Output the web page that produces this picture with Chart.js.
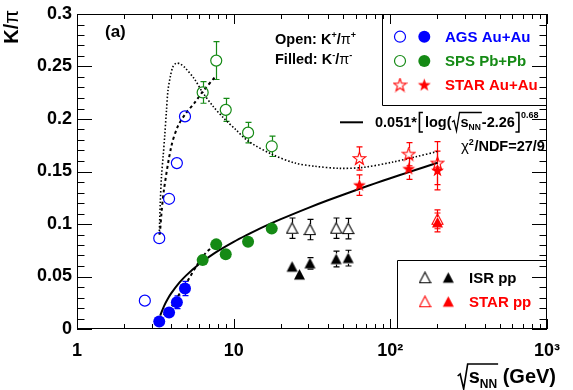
<!DOCTYPE html>
<html><head><meta charset="utf-8">
<script src="https://cdn.jsdelivr.net/npm/chart.js@4.4.0/dist/chart.umd.min.js"></script>
<style>html,body{margin:0;padding:0;background:#fff;}#wrap{width:573px;height:390px;position:relative;}</style>
</head><body><div id="wrap"><canvas id="c" width="573" height="390"></canvas></div>
<script>
const FONT = '"Liberation Sans", Arial, Helvetica, sans-serif';
const BLUE = '#0000ff', GREEN = '#158a15', RED = '#ff0000', BLACK = '#000000';

// ---- tick labels ----
const xTickValues = [1, 10, 100, 1000];
const xTickLabels = ['1', '10', '10\u00b2', '10\u00b3'];
const yTickValues = [0, 0.05, 0.1, 0.15, 0.2, 0.25, 0.3];
const yTickLabels = ['0', '0.05', '0.1', '0.15', '0.2', '0.25', '0.3'];

// ---- AGS Au+Au ----
const agsKpX = [2.71, 3.35, 3.87, 4.34, 4.89];
const agsKpY = [0.027, 0.0865, 0.124, 0.158, 0.2025];
const agsKpErr = [0, 0, 0, 0, 0];
const agsKmX = [3.35, 3.87, 4.34, 4.89];
const agsKmY = [0.0072, 0.0158, 0.0255, 0.0385];
const agsKmErr = [0.002, 0.005, 0.006, 0.0068];

// ---- SPS Pb+Pb ----
const spsX = [6.34, 7.74, 8.9, 12.36, 17.5];
const spsKpY = [0.2253, 0.2556, 0.2087, 0.187, 0.174];
const spsKpErr = [0.0103, 0.018, 0.011, 0.0097, 0.0097];
const spsKmY = [0.0656, 0.0806, 0.0712, 0.083, 0.0956];
const spsKmErr = [0.002, 0.002, 0.002, 0.002, 0.002];

// ---- STAR Au+Au ----
const starX = [63.5, 131, 200];
const starKpY = [0.1624, 0.1665, 0.158];
const starKpErr = [0.011, 0.011, 0.0205];
const starKmY = [0.137, 0.1525, 0.151];
const starKmErr = [0.0097, 0.010, 0.0185];

// ---- ISR pp ----
const isrKpX = [23.6, 30.7, 45.1, 53.8];
const isrKpY = [0.096, 0.0947, 0.096, 0.0956];
const isrKpErr = [0.0097, 0.0097, 0.0097, 0.0097];
const isrKmX = [23.6, 26.3, 30.7, 45.1, 53.8];
const isrKmY = [0.0593, 0.0518, 0.0625, 0.0666, 0.0675];
const isrKmErr = [0.0052, 0.004, 0.0055, 0.0075, 0.0075];

// ---- STAR pp ----
const starppX = [200];
const starppKpY = [0.1045];
const starppKpErr = [0.009];
const starppKmY = [0.1015];
const starppKmErr = [0.009];

// ---- fit curve 0.051*[log(sqrt(s)-2.26)]^0.68 ----
const fitX = [3.4, 3.6, 3.8, 4.0, 4.5, 5, 6, 7, 8, 10, 12, 15, 20, 30, 40, 60, 80, 100, 130, 160, 200];
const fitY = [0.0128, 0.0221, 0.0288, 0.0341, 0.0441, 0.0513, 0.0616, 0.0689, 0.0746, 0.0830, 0.0892, 0.0963, 0.1046, 0.1154, 0.1226, 0.1322, 0.1387, 0.1436, 0.1492, 0.1536, 0.1583];

// ---- dotted model curve ----
const dotX = [3.35, 3.4, 3.46, 3.55, 3.63, 3.72, 3.81, 3.95, 4.09, 4.29, 4.55, 4.85, 5.6, 6.34, 7.4, 8.62, 10.3, 12.36, 17.5, 24.7, 33, 47.3, 67.8, 104, 145, 199.5];
const dotY = [0.09, 0.12, 0.145, 0.165, 0.184, 0.207, 0.2275, 0.241, 0.2494, 0.2531, 0.2525, 0.2494, 0.2384, 0.2253, 0.212, 0.201, 0.19, 0.179, 0.1665, 0.158, 0.155, 0.153, 0.154, 0.159, 0.164, 0.169];

// ---- dash-dot curves ----
const dashKpX = [3.38, 3.46, 3.6, 4.0, 4.4, 4.96, 5.6, 6.34, 7.66];
const dashKpY = [0.09, 0.11, 0.134, 0.174, 0.193, 0.2056, 0.215, 0.226, 0.2406];
const dashKmX = [3.38, 3.6, 4.0, 4.4, 5.0, 5.9, 6.6, 7.7];
const dashKmY = [0.009, 0.014, 0.021, 0.031, 0.044, 0.062, 0.072, 0.081];

function pts(xs, ys) { return xs.map((x, i) => ({ x: x, y: ys[i] })); }
function mk(w, h, draw) { const c = document.createElement('canvas'); c.width = w; c.height = h; draw(c.getContext('2d')); return c; }
function starPath(g, cx, cy, R, r) {
  g.beginPath();
  for (let i = 0; i < 10; i++) {
    const a = -Math.PI / 2 + i * Math.PI / 5, rr = (i % 2) ? r : R;
    g.lineTo(cx + rr * Math.cos(a), cy + rr * Math.sin(a));
  }
  g.closePath();
}
function triPath(g) { g.beginPath(); g.moveTo(6.5, 1); g.lineTo(12, 11.5); g.lineTo(1, 11.5); g.closePath(); }
const starOpen = mk(15, 15, g => { starPath(g, 7.5, 7.8, 6.8, 2.7); g.strokeStyle = RED; g.lineWidth = 1.1; g.stroke(); });
const starFill = mk(15, 15, g => { starPath(g, 7.5, 7.8, 6.8, 2.7); g.fillStyle = RED; g.fill(); });
const triOpenK = mk(13, 13, g => { triPath(g); g.strokeStyle = BLACK; g.lineWidth = 1.1; g.stroke(); });
const triFillK = mk(13, 13, g => { triPath(g); g.fillStyle = BLACK; g.fill(); });
const triOpenR = mk(13, 13, g => { triPath(g); g.strokeStyle = RED; g.lineWidth = 1.1; g.stroke(); });
const triFillR = mk(13, 13, g => { triPath(g); g.fillStyle = RED; g.fill(); });

function curve(xs, ys, width, dash) {
  return { type: 'line', data: pts(xs, ys), borderColor: BLACK, borderWidth: width, borderDash: dash, pointRadius: 0, fill: false, tension: 0.3, order: 10 };
}
function openCircle(xs, ys, err, col) {
  return { type: 'scatter', data: pts(xs, ys), errY: err, gap: 5.5, errColor: col, pointStyle: 'circle', pointRadius: 5.5, borderWidth: 1.2, borderColor: col, backgroundColor: 'rgba(0,0,0,0)', order: 1 };
}
function fillCircle(xs, ys, err, col) {
  return { type: 'scatter', data: pts(xs, ys), errY: err, gap: 5.5, errColor: col, pointStyle: 'circle', pointRadius: 6, borderWidth: 0, borderColor: col, backgroundColor: col, order: 1 };
}
function imgMarker(xs, ys, err, col, img, gap) {
  return { type: 'scatter', data: pts(xs, ys), errY: err, gap: gap, errColor: col, pointStyle: img, pointRadius: 6, order: 1 };
}

const datasets = [
  curve(dotX, dotY, 1.6, [1.5, 2]),
  curve(dashKpX, dashKpY, 2, [3, 3]),
  curve(dashKmX, dashKmY, 2, [3, 3]),
  curve(fitX, fitY, 2, []),
  openCircle(agsKpX, agsKpY, agsKpErr, BLUE),
  fillCircle(agsKmX, agsKmY, agsKmErr, BLUE),
  openCircle(spsX, spsKpY, spsKpErr, GREEN),
  fillCircle(spsX, spsKmY, spsKmErr, GREEN),
  imgMarker(starX, starKpY, starKpErr, RED, starOpen, 6),
  imgMarker(starX, starKmY, starKmErr, RED, starFill, 6),
  imgMarker(isrKpX, isrKpY, isrKpErr, BLACK, triOpenK, 5.5),
  imgMarker(isrKmX, isrKmY, isrKmErr, BLACK, triFillK, 5.5),
  imgMarker(starppX, starppKpY, starppKpErr, RED, triOpenR, 5.5),
  imgMarker(starppX, starppKmY, starppKmErr, RED, triFillR, 5.5)
];

function rich(ctx, x, y, parts, color) {
  ctx.fillStyle = color; ctx.textBaseline = 'alphabetic'; ctx.textAlign = 'left';
  for (const p of parts) {
    ctx.font = (p.w || 'bold') + ' ' + p.s + 'px ' + FONT;
    ctx.fillText(p.t, x, y + (p.dy || 0));
    x += ctx.measureText(p.t).width + (p.sp || 0);
  }
  return x;
}
function width(ctx, parts) {
  let w = 0;
  for (const p of parts) { ctx.font = (p.w || 'bold') + ' ' + p.s + 'px ' + FONT; w += ctx.measureText(p.t).width + (p.sp || 0); }
  return w;
}

const errPlugin = {
  id: 'errbars',
  beforeDatasetsDraw(chart) {
    const ctx = chart.ctx, ys = chart.scales.y;
    chart.data.datasets.forEach((ds, i) => {
      if (!ds.errY) return;
      const meta = chart.getDatasetMeta(i);
      ctx.save(); ctx.strokeStyle = ds.errColor; ctx.lineWidth = 1.2;
      meta.data.forEach((el, j) => {
        const e = ds.errY[j]; if (!e) return;
        const v = ds.data[j].y;
        const yt = ys.getPixelForValue(v + e), yb = ys.getPixelForValue(v - e);
        const x = Math.round(el.x) + 0.5;
        ctx.beginPath();
        if (yt < el.y - ds.gap) { ctx.moveTo(x, yt); ctx.lineTo(x, el.y - ds.gap); ctx.moveTo(x - 3, yt); ctx.lineTo(x + 3, yt); }
        if (yb > el.y + ds.gap) { ctx.moveTo(x, yb); ctx.lineTo(x, el.y + ds.gap); ctx.moveTo(x - 3, yb); ctx.lineTo(x + 3, yb); }
        ctx.stroke();
      });
      ctx.restore();
    });
  }
};

const decorPlugin = {
  id: 'decor',
  afterDraw(chart) {
    const ctx = chart.ctx, ca = chart.chartArea, xs = chart.scales.x, ys = chart.scales.y;
    const L = Math.round(ca.left), R = Math.round(ca.right), T = Math.round(ca.top), B = Math.round(ca.bottom);
    ctx.save();
    ctx.strokeStyle = BLACK; ctx.lineWidth = 1;
    // legend boxes
    ctx.beginPath();
    ctx.moveTo(382.5, T); ctx.lineTo(382.5, 105.5); ctx.lineTo(R, 105.5);
    ctx.moveTo(397.5, B); ctx.lineTo(397.5, 260.5); ctx.lineTo(R, 260.5);
    ctx.stroke();
    // frame
    ctx.strokeRect(L + 0.5, T + 0.5, R - L - 1, B - T - 1);
    // x ticks
    ctx.beginPath();
    for (let d = 1; d <= 1000; d *= 10) {
      for (let m = 1; m <= 9; m++) {
        const v = d * m; if (v > 1000) break;
        const px = Math.round(xs.getPixelForValue(v)) + 0.5;
        const len = (m === 1) ? 10 : 5;
        ctx.moveTo(px, B); ctx.lineTo(px, B - len);
        ctx.moveTo(px, T); ctx.lineTo(px, T + len);
      }
    }
    // y ticks
    for (let i = 0; i <= 30; i++) {
      const py = Math.round(ys.getPixelForValue(i * 0.01)) + 0.5;
      const len = (i % 5 === 0) ? 15 : 7.5;
      ctx.moveTo(L, py); ctx.lineTo(L + len, py);
      ctx.moveTo(R, py); ctx.lineTo(R - len, py);
    }
    ctx.stroke();

    // legend 1 markers
    const lg1 = [[36.7, BLUE, 'AGS Au+Au'], [61, GREEN, 'SPS Pb+Pb'], [85, RED, 'STAR Au+Au']];
    lg1.forEach(([y, col, label], k) => {
      if (k < 2) {
        ctx.beginPath(); ctx.arc(400, y, 5.5, 0, 2 * Math.PI); ctx.strokeStyle = col; ctx.lineWidth = 1.2; ctx.stroke();
        ctx.beginPath(); ctx.arc(424.3, y, 6, 0, 2 * Math.PI); ctx.fillStyle = col; ctx.fill();
      } else {
        ctx.drawImage(starOpen, 400 - 7.5, y - 7.5);
        ctx.drawImage(starFill, 424.3 - 7.5, y - 7.5);
      }
      rich(ctx, 445, y + 5.4, [{ t: label, s: 15 }], col);
    });
    // legend 2 markers
    ctx.drawImage(triOpenK, 425 - 6.5, 277.7 - 6.5);
    ctx.drawImage(triFillK, 448.3 - 6.5, 277.7 - 6.5);
    rich(ctx, 469, 283, [{ t: 'ISR pp', s: 15 }], BLACK);
    ctx.drawImage(triOpenR, 425 - 6.5, 301.7 - 6.5);
    ctx.drawImage(triFillR, 448.3 - 6.5, 301.7 - 6.5);
    rich(ctx, 469, 307, [{ t: 'STAR pp', s: 15 }], RED);

    // (a)
    rich(ctx, 105, 37, [{ t: '(a)', s: 17 }], BLACK);
    // Open / Filled
    rich(ctx, 275, 43.5, [{ t: 'Open: K', s: 14.5 }, { t: '+', s: 9, dy: -6 }, { t: '/', s: 14.5 }, { t: '\u03c0', s: 14.5, w: 'normal' }, { t: '+', s: 9, dy: -6 }], BLACK);
    rich(ctx, 275, 64, [{ t: 'Filled: K', s: 14.5 }, { t: '-', s: 9, dy: -6 }, { t: '/', s: 14.5 }, { t: '\u03c0', s: 14.5, w: 'normal' }, { t: '-', s: 9, dy: -6 }], BLACK);

    // fit legend
    ctx.beginPath(); ctx.strokeStyle = BLACK; ctx.lineWidth = 2; ctx.moveTo(340, 122.3); ctx.lineTo(363, 122.3); ctx.stroke();
    let x = rich(ctx, 375, 126.7, [{ t: '0.051*', s: 14.5 }], BLACK);
    // tall bracket [
    ctx.lineWidth = 1.6; ctx.beginPath();
    ctx.moveTo(x + 6, 112.5); ctx.lineTo(x + 2.5, 112.5); ctx.lineTo(x + 2.5, 132); ctx.lineTo(x + 6, 132); ctx.stroke();
    x = rich(ctx, x + 8, 126.7, [{ t: 'log(', s: 14.5 }], BLACK);
    // sqrt sign
    const sx0 = x + 0.5;
    const inner = [{ t: 's', s: 14.5 }, { t: 'NN', s: 8.5, dy: 3.5 }];
    const iw = width(ctx, inner);
    ctx.lineWidth = 1.3; ctx.beginPath();
    ctx.moveTo(sx0, 122); ctx.lineTo(sx0 + 2, 120.5); ctx.lineTo(sx0 + 4.5, 131); ctx.lineTo(sx0 + 7.5, 112.5); ctx.lineTo(sx0 + 9.5 + iw, 112.5); ctx.stroke();
    x = rich(ctx, sx0 + 8.5, 126.7, inner, BLACK);
    x = rich(ctx, x + 1, 126.7, [{ t: '-2.26', s: 14.5 }], BLACK);
    ctx.lineWidth = 1.6; ctx.beginPath();
    ctx.moveTo(x + 0.5, 112.5); ctx.lineTo(x + 4, 112.5); ctx.lineTo(x + 4, 132); ctx.lineTo(x + 0.5, 132); ctx.stroke();
    rich(ctx, x + 6, 126.7, [{ t: '0.68', s: 9, dy: -9 }], BLACK);

    // chi2
    rich(ctx, 461, 151, [{ t: '\u03c7', s: 15, w: 'normal' }, { t: '2', s: 9, dy: -6, sp: 0.5 }, { t: '/NDF=27/9', s: 14.5 }], BLACK);

    // y title
    ctx.save(); ctx.translate(18, 10); ctx.rotate(-Math.PI / 2);
    ctx.textAlign = 'left'; ctx.textBaseline = 'alphabetic';
    const yParts = [{ t: 'K/', s: 20 }, { t: '\u03c0', s: 20, w: 'normal' }];
    const yw = width(ctx, yParts);
    rich(ctx, -yw, 0, yParts, BLACK);
    ctx.restore();

    // x title
    const xParts = [{ t: 's', s: 20 }, { t: 'NN', s: 12, dy: 5 }];
    const xw = width(ctx, xParts);
    const tail = [{ t: ' (GeV)', s: 20 }];
    const tw = width(ctx, tail);
    const bx = 557 - tw - xw - 12;
    ctx.strokeStyle = BLACK; ctx.lineWidth = 1.6; ctx.beginPath();
    ctx.moveTo(bx, 376); ctx.lineTo(bx + 2.5, 374); ctx.lineTo(bx + 6, 389); ctx.lineTo(bx + 10, 364); ctx.lineTo(bx + 12 + xw, 364); ctx.stroke();
    let x2 = rich(ctx, bx + 11, 383, xParts, BLACK);
    rich(ctx, x2, 383, tail, BLACK);
    ctx.restore();
  }
};

new Chart(document.getElementById('c'), {
  type: 'scatter',
  data: { datasets: datasets },
  options: {
    responsive: false, animation: false, devicePixelRatio: 1,
    layout: { padding: { left: 0, top: 9, right: 16, bottom: 0 } },
    plugins: { legend: { display: false }, tooltip: { enabled: false }, title: { display: false } },
    scales: {
      x: {
        type: 'logarithmic', min: 1, max: 1000, position: 'bottom',
        afterBuildTicks: s => { s.ticks = xTickValues.map(v => ({ value: v })); },
        afterFit: s => { s.height = 61; },
        ticks: { callback: (v, i) => xTickLabels[i], autoSkip: false, maxRotation: 0, minRotation: 0, padding: 13, color: BLACK, font: { family: FONT, size: 18, weight: 'bold', lineHeight: 1 } },
        grid: { display: false, drawTicks: false }, border: { display: false }
      },
      y: {
        type: 'linear', min: 0, max: 0.3, position: 'left',
        afterBuildTicks: s => { s.ticks = yTickValues.map(v => ({ value: v })); },
        afterFit: s => { s.width = 77; },
        ticks: { callback: (v, i) => yTickLabels[i], autoSkip: false, padding: 5, color: BLACK, font: { family: FONT, size: 18, weight: 'bold', lineHeight: 1 } },
        grid: { display: false, drawTicks: false }, border: { display: false }
      }
    }
  },
  plugins: [errPlugin, decorPlugin]
});
</script></body></html>
